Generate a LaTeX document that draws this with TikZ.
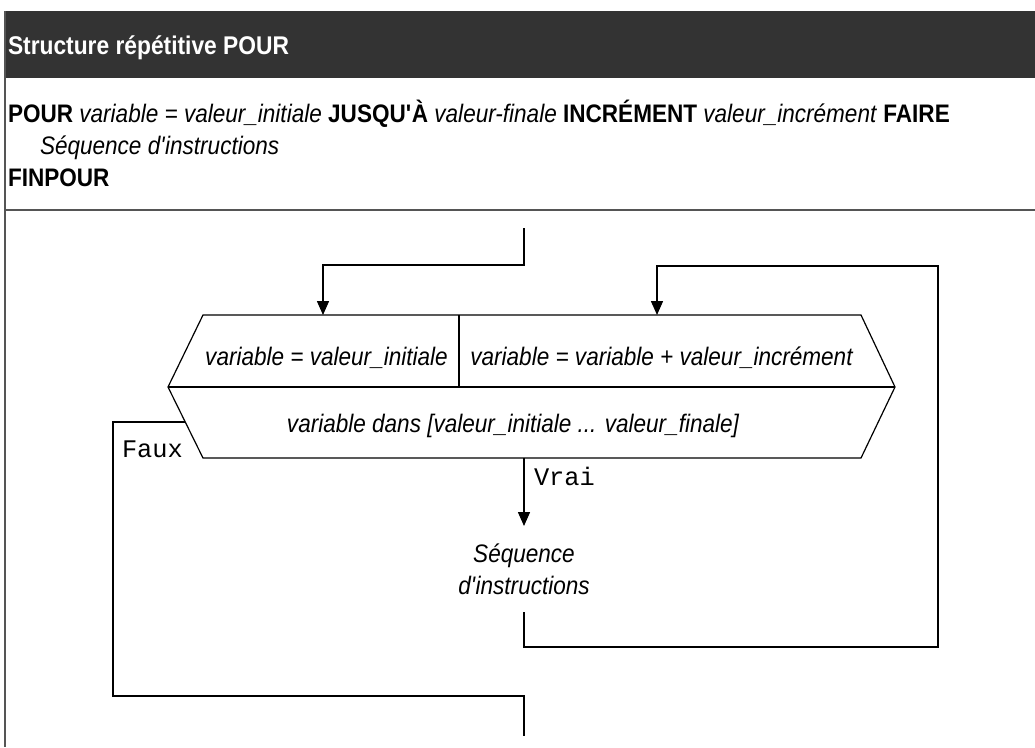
\documentclass[tikz,border=0pt]{standalone}
\usepackage{fontspec}
\setmainfont[FakeStretch=0.89]{Liberation Sans}
\setmonofont{Liberation Mono}
\usetikzlibrary{arrows.meta,calc}
\definecolor{hdr}{HTML}{333333}
\definecolor{framec}{HTML}{555555}
\begin{document}
\begin{tikzpicture}[x=0.75pt,y=-0.75pt,
  every node/.style={inner sep=0pt, outer sep=0pt},
  conn/.style={line width=1.1pt, black},
  arr/.style={conn, -{Triangle[length=10.5pt,width=9pt]}},
  hexline/.style={line width=0.9pt, black, line join=miter},
  dtext/.style={font=\fontsize{19pt}{22pt}\selectfont\itshape},
  ptext/.style={font=\fontsize{19pt}{22pt}\selectfont},
  htext/.style={font=\fontsize{19.2pt}{22pt}\selectfont\bfseries, text=white},
  mtext/.style={font=\fontsize{19pt}{22pt}\selectfont\ttfamily}]
\useasboundingbox (0,0) rectangle (1035,747);
\fill[white] (0,0) rectangle (1035,747);
% frame and header
\fill[hdr] (4,11) rectangle (1035,78);
\draw[framec, line width=1.2pt] (5,11) -- (5,747);
\draw[framec, line width=1.4pt] (4,210) -- (1035,210);
\node[htext, anchor=base west] (title) at (8,54) {Structure répétitive POUR};
\node[ptext, anchor=base west] (l1) at (8,122) {\textbf{POUR} \textit{variable = valeur\_initiale} \textbf{JUSQU\textquotesingle À} \textit{valeur-finale} \textbf{INCRÉMENT} \textit{valeur\_incrément} \textbf{FAIRE}};
\node[ptext, anchor=base west] (l2) at (40,154) {\textit{Séquence d\textquotesingle instructions}};
\node[ptext, anchor=base west] (l3) at (8,186) {\textbf{FINPOUR}};
% hexagon
\coordinate (hTL) at (203,315);
\coordinate (hTR) at (861,315);
\coordinate (hR) at (895,387);
\coordinate (hBR) at (861,458);
\coordinate (hBL) at (203,458);
\coordinate (hL) at (168,387);
\draw[hexline] (hTL) -- (hTR) -- (hR) -- (hBR) -- (hBL) -- (hL) -- cycle;
\draw[hexline] (hL) -- (hR);
\draw[hexline] (459,315) -- (459,387);
\node[dtext, anchor=base] (init) at (326.5,365) {variable = valeur\_initiale};
\node[dtext, anchor=base] (incr) at (661.5,365) {variable = variable + valeur\_incrément};
\node[dtext, anchor=base] (cond) at (513,432) {variable dans [valeur\_initiale ... valeur\_finale]};
% connection points
\coordinate (in) at (524,228);
\coordinate (j1) at (524,265);
\coordinate (initTop) at (323,315);
\coordinate (incrTop) at (657,315);
\coordinate (condB) at (524,458);
\coordinate (fauxStart) at (185.3,422);
\coordinate (fb) at (113,696);
\coordinate (out) at (524,736);
\coordinate (rb) at (938,647);
\coordinate (rt) at (938,266);
% sequence
\node[dtext, anchor=base] (seqA) at (524,562) {Séquence};
\node[dtext, anchor=base] (seqB) at (524,594) {d\textquotesingle instructions};
\coordinate (seqIn) at (524,526);
\coordinate (seqOut) at (524,612);
% connectors
\draw[arr] (in) -- (j1) -| (initTop);
\draw[arr] (condB) -- (seqIn);
\draw[arr] (seqOut) |- (rb) -- (rt) -| (incrTop);
\draw[conn] (fauxStart) -| (fb) -| (out);
% labels
\node[mtext, anchor=base west] (faux) at (122,457) {Faux};
\node[mtext, anchor=base west] (vrai) at (534,485) {Vrai};
\end{tikzpicture}
\end{document}
